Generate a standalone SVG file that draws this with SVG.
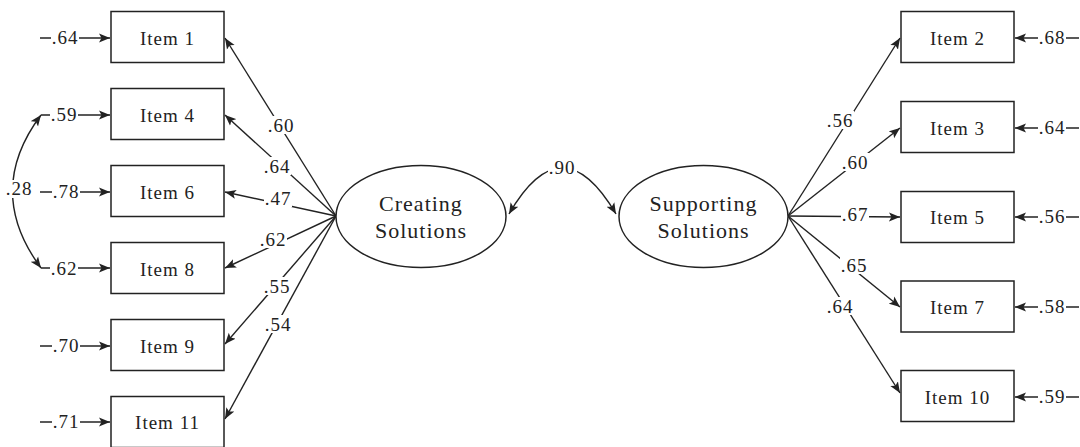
<svg xmlns="http://www.w3.org/2000/svg" width="1080" height="447" viewBox="0 0 1080 447">
<style>
.box{fill:#fff;stroke:#222;stroke-width:1.5}
.ell{fill:#fff;stroke:#222;stroke-width:1.5}
.ln{fill:none;stroke:#222;stroke-width:1.4}
.bg{fill:#fff;stroke:none}
.t{font-family:"Liberation Serif","Times New Roman",serif;font-size:19px;fill:#222;text-anchor:middle;letter-spacing:1px}
.lt{font-family:"Liberation Serif","Times New Roman",serif;font-size:22px;fill:#222;text-anchor:middle;letter-spacing:1px}
.lab{font-family:"Liberation Serif","Times New Roman",serif;font-size:19px;fill:#222;text-anchor:middle;letter-spacing:1px}
</style>
<defs>
<marker id="ah" markerUnits="userSpaceOnUse" markerWidth="12" markerHeight="10" refX="11" refY="5" orient="auto-start-reverse">
<path d="M0,0.5 L11,5 L0,9.5 L2.5,5 z" fill="#222"/>
</marker>
</defs>
<rect width="1080" height="447" fill="#fff"/>

<g id="connectors">
<!-- loadings left -->
<line class="ln" x1="336" y1="216" x2="225" y2="38" marker-end="url(#ah)"/>
<line class="ln" x1="336" y1="216" x2="225" y2="115" marker-end="url(#ah)"/>
<line class="ln" x1="336" y1="216" x2="225" y2="192" marker-end="url(#ah)"/>
<line class="ln" x1="336" y1="216" x2="225" y2="268" marker-end="url(#ah)"/>
<line class="ln" x1="336" y1="216" x2="225" y2="344" marker-end="url(#ah)"/>
<line class="ln" x1="336" y1="216" x2="225" y2="419" marker-end="url(#ah)"/>
<!-- loadings right -->
<line class="ln" x1="788" y1="216" x2="900" y2="38" marker-end="url(#ah)"/>
<line class="ln" x1="788" y1="216" x2="900" y2="128" marker-end="url(#ah)"/>
<line class="ln" x1="788" y1="216" x2="900" y2="217" marker-end="url(#ah)"/>
<line class="ln" x1="788" y1="216" x2="900" y2="307" marker-end="url(#ah)"/>
<line class="ln" x1="788" y1="216" x2="900" y2="393" marker-end="url(#ah)"/>
<!-- error terms left -->
<line class="ln" x1="40" y1="38" x2="110" y2="38" marker-end="url(#ah)"/>
<line class="ln" x1="41" y1="115" x2="110" y2="115" marker-end="url(#ah)"/>
<line class="ln" x1="40" y1="192" x2="110" y2="192" marker-end="url(#ah)"/>
<line class="ln" x1="41" y1="268" x2="110" y2="268" marker-end="url(#ah)"/>
<line class="ln" x1="40" y1="346" x2="110" y2="346" marker-end="url(#ah)"/>
<line class="ln" x1="40" y1="422" x2="110" y2="422" marker-end="url(#ah)"/>
<!-- error terms right -->
<line class="ln" x1="1079" y1="38" x2="1015" y2="38" marker-end="url(#ah)"/>
<line class="ln" x1="1079" y1="128" x2="1015" y2="128" marker-end="url(#ah)"/>
<line class="ln" x1="1079" y1="217" x2="1015" y2="217" marker-end="url(#ah)"/>
<line class="ln" x1="1079" y1="307" x2="1015" y2="307" marker-end="url(#ah)"/>
<line class="ln" x1="1079" y1="397" x2="1015" y2="397" marker-end="url(#ah)"/>
<!-- covariances -->
<path class="ln" d="M41,115 Q-16,191 41,268" marker-start="url(#ah)" marker-end="url(#ah)"/>
<path class="ln" d="M509,214 Q562,122 616,214" marker-start="url(#ah)" marker-end="url(#ah)"/>
<!-- label backgrounds -->
<rect class="bg" x="267" y="116" width="28" height="18"/>
<rect class="bg" x="263" y="157" width="28" height="18"/>
<rect class="bg" x="264" y="189" width="28" height="18"/>
<rect class="bg" x="259" y="230" width="28" height="18"/>
<rect class="bg" x="263" y="277" width="28" height="18"/>
<rect class="bg" x="264" y="315" width="28" height="18"/>
<rect class="bg" x="826" y="111" width="28" height="18"/>
<rect class="bg" x="841" y="153" width="28" height="18"/>
<rect class="bg" x="841" y="205" width="28" height="18"/>
<rect class="bg" x="840" y="256" width="28" height="18"/>
<rect class="bg" x="826" y="297" width="28" height="18"/>
<rect class="bg" x="51" y="28" width="28" height="18"/>
<rect class="bg" x="50" y="105" width="28" height="18"/>
<rect class="bg" x="52" y="182" width="28" height="18"/>
<rect class="bg" x="50" y="259" width="28" height="18"/>
<rect class="bg" x="52" y="336" width="28" height="18"/>
<rect class="bg" x="52" y="412" width="28" height="18"/>
<rect class="bg" x="1038" y="28" width="28" height="18"/>
<rect class="bg" x="1038" y="118" width="28" height="18"/>
<rect class="bg" x="1038" y="207" width="28" height="18"/>
<rect class="bg" x="1038" y="297" width="28" height="18"/>
<rect class="bg" x="1038" y="387" width="28" height="18"/>
<rect class="bg" x="6" y="180" width="26" height="18"/>
<rect class="bg" x="548" y="158" width="29" height="18"/>
<!-- labels -->
<text class="lab" x="281" y="132">.60</text>
<text class="lab" x="277" y="173">.64</text>
<text class="lab" x="278" y="205">.47</text>
<text class="lab" x="273" y="246">.62</text>
<text class="lab" x="277" y="293">.55</text>
<text class="lab" x="278" y="331">.54</text>
<text class="lab" x="840" y="127">.56</text>
<text class="lab" x="855" y="169">.60</text>
<text class="lab" x="855" y="221">.67</text>
<text class="lab" x="854" y="272">.65</text>
<text class="lab" x="840" y="313">.64</text>
<text class="lab" x="65" y="44">.64</text>
<text class="lab" x="64" y="121">.59</text>
<text class="lab" x="66" y="198">.78</text>
<text class="lab" x="64" y="275">.62</text>
<text class="lab" x="66" y="352">.70</text>
<text class="lab" x="66" y="428">.71</text>
<text class="lab" x="1052" y="44">.68</text>
<text class="lab" x="1052" y="134">.64</text>
<text class="lab" x="1052" y="223">.56</text>
<text class="lab" x="1052" y="313">.58</text>
<text class="lab" x="1052" y="403">.59</text>
<text class="lab" x="19" y="195">.28</text>
<text class="lab" x="562" y="174">.90</text>
</g>

<g id="item1"><rect class="box" x="111" y="11.5" width="113" height="51"/><text class="t" x="167.5" y="45">Item 1</text></g>
<g id="item4"><rect class="box" x="111" y="88.5" width="113" height="51"/><text class="t" x="167.5" y="122">Item 4</text></g>
<g id="item6"><rect class="box" x="111" y="165.5" width="113" height="51"/><text class="t" x="167.5" y="199">Item 6</text></g>
<g id="item8"><rect class="box" x="111" y="242.5" width="113" height="51"/><text class="t" x="167.5" y="276">Item 8</text></g>
<g id="item9"><rect class="box" x="111" y="319.5" width="113" height="51"/><text class="t" x="167.5" y="353">Item 9</text></g>
<g id="item11"><rect class="box" x="111" y="396.5" width="113" height="51"/><text class="t" x="167.5" y="429">Item 11</text></g>

<g id="item2"><rect class="box" x="901" y="11.5" width="113" height="51"/><text class="t" x="957.5" y="45">Item 2</text></g>
<g id="item3"><rect class="box" x="901" y="101.5" width="113" height="51"/><text class="t" x="957.5" y="135">Item 3</text></g>
<g id="item5"><rect class="box" x="901" y="191.5" width="113" height="51"/><text class="t" x="957.5" y="224">Item 5</text></g>
<g id="item7"><rect class="box" x="901" y="281" width="113" height="51"/><text class="t" x="957.5" y="314">Item 7</text></g>
<g id="item10"><rect class="box" x="901" y="370.5" width="113" height="51"/><text class="t" x="957.5" y="404">Item 10</text></g>

<g id="creating"><ellipse class="ell" cx="421" cy="216.5" rx="85" ry="51"/><text class="lt" x="421" y="211">Creating</text><text class="lt" x="421" y="238">Solutions</text></g>
<g id="supporting"><ellipse class="ell" cx="703.5" cy="216.5" rx="84.5" ry="51"/><text class="lt" x="703.5" y="211">Supporting</text><text class="lt" x="703.5" y="238">Solutions</text></g>
</svg>
